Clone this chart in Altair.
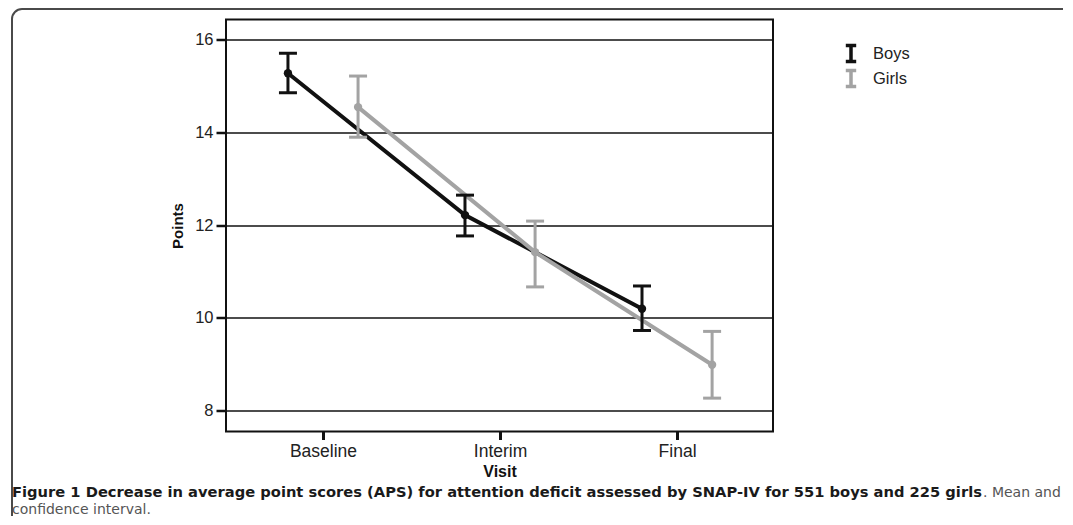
import json
import altair as alt
import pandas as pd

visits = ["Baseline", "Interim", "Final"]
groups = ["Boys", "Girls"]
boys_mean = [15.28, 12.22, 10.20]
boys_lo = [14.86, 11.77, 9.73]
boys_hi = [15.71, 12.65, 10.69]
girls_mean = [14.55, 11.42, 8.99]
girls_lo = [13.90, 10.67, 8.27]
girls_hi = [15.22, 12.09, 9.71]
y_ticks = [8, 10, 12, 14, 16]
colors = ["#111111", "#a3a3a3"]
caption_bold = ("Figure 1 Decrease in average point scores (APS) for attention deficit "
                "assessed by SNAP-IV for 551 boys and 225 girls")
caption_rest1 = ". Mean and 95%"
caption_rest2 = "confidence interval."

rows = []
for g, m, lo, hi in [("Boys", boys_mean, boys_lo, boys_hi), ("Girls", girls_mean, girls_lo, girls_hi)]:
    for i, v in enumerate(visits):
        rows.append({"group": g, "visit": v, "idx": i + 1, "mean": m[i], "lo": lo[i], "hi": hi[i]})
df = pd.DataFrame(rows)

FONT = "Liberation Sans"
CFONT = "DejaVu Sans"
W, H = 547, 412

base = alt.Chart(df).transform_calculate(
    pos="datum.idx + (datum.group == 'Boys' ? -0.198 : 0.198)"
)

label_expr = json.dumps(visits) + "[datum.value - 1]"
xenc = alt.X("pos:Q",
             scale=alt.Scale(domain=[0.452, 3.542], nice=False, zero=False),
             axis=alt.Axis(values=[1, 2, 3], labelExpr=label_expr, grid=False,
                           tickSize=8, tickWidth=3, tickColor="#111", labelPadding=3,
                           labelFont=FONT, labelFontSize=17.5, labelColor="#222",
                           title="Visit", titleFont=FONT, titleFontSize=16, titleFontWeight="bold",
                           titleColor="#111", titleX=W / 2, titleY=40, titleBaseline="middle",
                           domain=False))
yscale = alt.Scale(domain=[7.55, 16.44], nice=False, zero=False)
yenc = alt.Y("mean:Q", scale=yscale,
             axis=alt.Axis(values=y_ticks, grid=True, gridColor="#111", gridWidth=1.3,
                           tickSize=10, tickWidth=2.5, tickColor="#111", labelPadding=3,
                           labelFont=FONT, labelFontSize=16.5, labelColor="#222",
                           title="Points", titleFont=FONT, titleFontSize=15, titleFontWeight="bold",
                           titleColor="#111", titleX=-49, titleY=H / 2, titleBaseline="middle",
                           domain=False))
cscale = alt.Scale(domain=groups, range=colors)

legend = alt.Legend(title=None, orient="none", legendX=615, legendY=24,
                    symbolType="M-0.65,-1H0.65M0,-1V1M-0.65,1H0.65",
                    symbolSize=256, symbolStrokeWidth=3.5, symbolFillColor="transparent",
                    symbolOpacity=1,
                    labelFont=FONT, labelFontSize=16.5, labelColor="#222", labelOffset=12,
                    rowPadding=-11)
col = alt.Color("group:N", scale=cscale, legend=legend)

lines = base.mark_line(strokeWidth=4).encode(x=xenc, y=yenc, color=col, detail="group:N")
rules = base.mark_rule(strokeWidth=3, opacity=1).encode(
    x="pos:Q", y=alt.Y("lo:Q", scale=yscale), y2="hi:Q", color=col)
caps_lo = base.mark_tick(orient="horizontal", size=18, thickness=3, opacity=1).encode(
    x="pos:Q", y=alt.Y("lo:Q", scale=yscale), color=col)
caps_hi = base.mark_tick(orient="horizontal", size=18, thickness=3, opacity=1).encode(
    x="pos:Q", y=alt.Y("hi:Q", scale=yscale), color=col)
pts = base.mark_point(filled=True, size=70, opacity=1).encode(
    x="pos:Q", y="mean:Q", color=col)

one = pd.DataFrame({"a": [0]})
frame = alt.Chart(one).mark_rect(fill="transparent", stroke="#4a4a4a", strokeWidth=2,
                                 cornerRadius=10).encode(
    x=alt.value(-214), x2=alt.value(900), y=alt.value(-10.5), y2=alt.value(700))
cap1 = alt.Chart(one).mark_text(align="left", baseline="middle", font=CFONT,
                                fontSize=14.7, fontWeight="bold", color="#1a1a1a").encode(
    x=alt.value(-214), y=alt.value(473.5), text=alt.value(caption_bold))
cap1b = alt.Chart(one).mark_text(align="left", baseline="middle", font=CFONT,
                                 fontSize=14, color="#555555").encode(
    x=alt.value(757), y=alt.value(473.5), text=alt.value(caption_rest1))
cap2 = alt.Chart(one).mark_text(align="left", baseline="middle", font=CFONT,
                                fontSize=14, color="#555555").encode(
    x=alt.value(-214), y=alt.value(490.5), text=alt.value(caption_rest2))

chart = alt.layer(lines, rules, caps_lo, caps_hi, pts, frame, cap1, cap1b, cap2).resolve_scale(
    color="shared").properties(
    width=W, height=H,
    background="white",
    autosize=alt.AutoSizeParams(type="none"),
    padding={"left": 218, "top": 11.5, "right": 290, "bottom": 84},
).configure_view(stroke="#111", strokeWidth=2)

chart.save("out.html", embed_options={"renderer": "svg", "actions": False})
